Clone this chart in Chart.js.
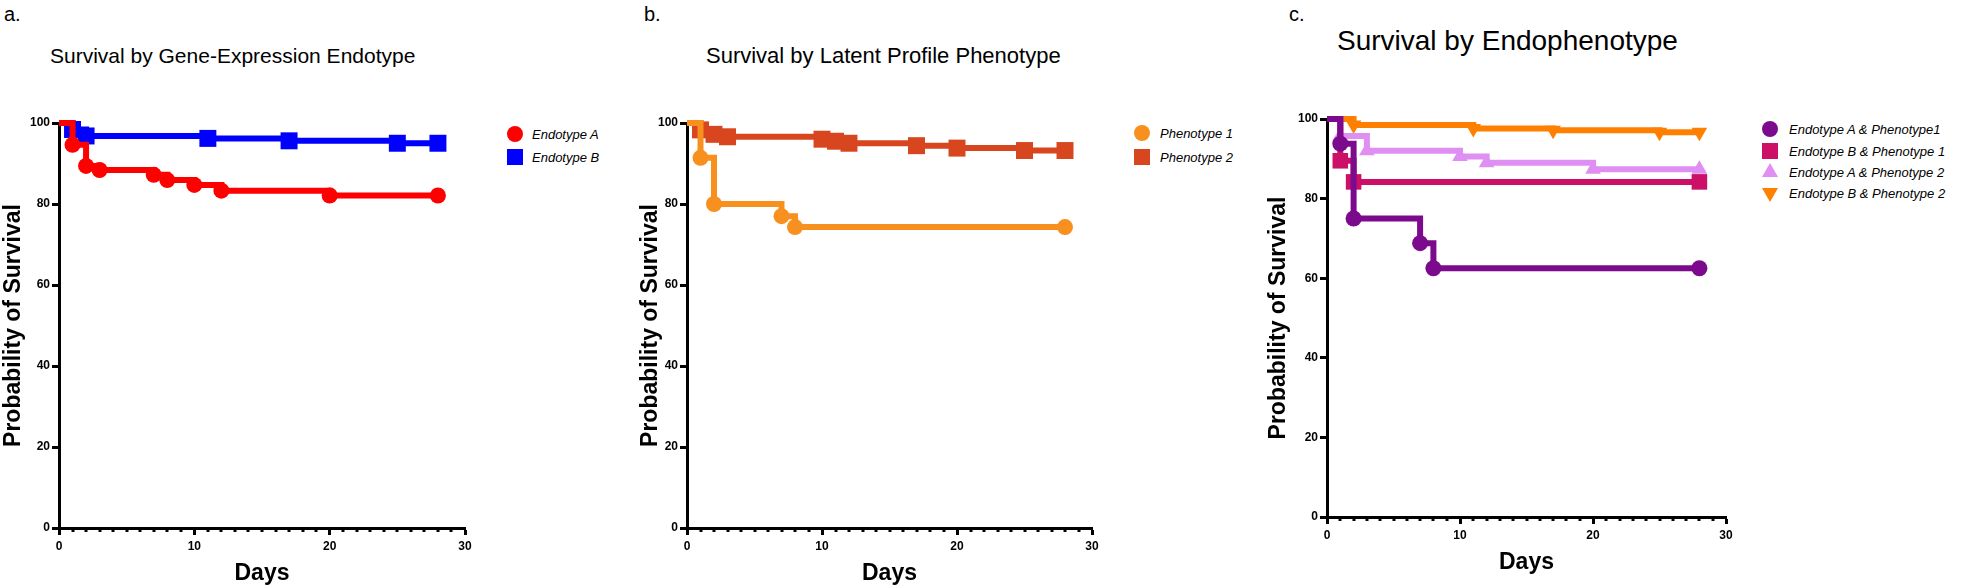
<!DOCTYPE html>
<html>
<head>
<meta charset="utf-8">
<script src="https://cdn.jsdelivr.net/npm/chart.js@4.4.1/dist/chart.umd.min.js"></script>
<style>
  html, body { margin: 0; padding: 0; background: #fff; }
  body { width: 1961px; height: 587px; position: relative; overflow: hidden;
         font-family: "Liberation Sans", Arial, sans-serif; color: #000; }
  canvas { position: absolute; top: 0; }
  .lbl { position: absolute; font-size: 20px; line-height: 20px; }
  .ttl { position: absolute; font-size: 21px; line-height: 21px; white-space: nowrap; }
  .leg { position: absolute; font-size: 13px; font-style: italic; line-height: 13px; white-space: nowrap; }
  .leg svg { position: absolute; overflow: visible; }
</style>
</head>
<body>
<div class="lbl" style="left:4px; top:4px;">a.</div>
<div class="lbl" style="left:644px; top:4px;">b.</div>
<div class="lbl" style="left:1289px; top:4px;">c.</div>

<div class="ttl" style="left:50px; top:45px;">Survival by Gene-Expression Endotype</div>
<div class="ttl" style="left:706px; top:45px; font-size:22px; line-height:22px;">Survival by Latent Profile Phenotype</div>
<div class="ttl" style="left:1337px; top:27px; font-size:28px; line-height:28px;">Survival by Endophenotype</div>

<canvas id="chartA" width="500" height="587" style="left:0px"></canvas>
<canvas id="chartB" width="500" height="587" style="left:630px"></canvas>
<canvas id="chartC" width="500" height="587" style="left:1260px"></canvas>

<div id="legA"></div>
<div id="legB"></div>
<div id="legC"></div>

<script>
// ---- data (days, survival %) ----
const endoADays = [0, 1, 2, 3, 7, 8, 10, 12, 20, 28];
const endoASurv = [100, 94.6, 89.4, 88.4, 87.2, 85.9, 84.7, 83.3, 82.1, 82.1];
const endoBDays = [0, 1, 2, 11, 17, 25, 28];
const endoBSurv = [100, 98.4, 96.8, 96.2, 95.6, 95.0, 95.0];

const pheno1Days = [0, 1, 2, 7, 8, 28];
const pheno1Surv = [100, 91.4, 80.0, 77.0, 74.3, 74.3];
const pheno2Days = [0, 1, 2, 3, 10, 11, 12, 17, 20, 25, 28];
const pheno2Surv = [100, 98.3, 97.2, 96.6, 96.0, 95.5, 95.0, 94.4, 93.8, 93.2, 93.2];

const aP1Days = [0, 1, 2, 7, 8, 28];
const aP1Surv = [100, 93.8, 75.0, 68.8, 62.5, 62.5];
const bP1Days = [0, 1, 2, 28];
const bP1Surv = [100, 89.5, 84.2, 84.2];
const aP2Days = [0, 1, 3, 10, 12, 20, 28];
const aP2Surv = [100, 95.7, 92.0, 90.6, 89.0, 87.4, 87.4];
const bP2Days = [0, 2, 11, 17, 25, 28];
const bP2Surv = [100, 98.5, 97.6, 97.2, 96.7, 96.7];

const xTicks = [0, 10, 20, 30];
const yTicks = [0, 20, 40, 60, 80, 100];

const FONT = '"Liberation Sans", Arial, sans-serif';

function pts(days, surv) {
  return days.map((d, i) => ({ x: d, y: surv[i] }));
}

function series(label, days, surv, color, style, radius, lineW, rot) {
  return {
    label: label,
    data: pts(days, surv),
    borderColor: color,
    backgroundColor: color,
    borderWidth: lineW,
    stepped: true,
    clip: false,
    pointStyle: style,
    pointRotation: rot || 0,
    pointBorderWidth: 0,
    pointRadius: (ctx) => ctx.dataIndex === 0 ? 0 : radius,
    pointHoverRadius: (ctx) => ctx.dataIndex === 0 ? 0 : radius
  };
}

// short day ticks between the labelled ones, placed by the x scale
const minorTicks = {
  id: 'minorTicks',
  afterDraw(chart) {
    const xs = chart.scales.x;
    const ctx = chart.ctx;
    const y0 = xs.top;
    ctx.save();
    ctx.strokeStyle = '#000';
    ctx.lineWidth = 3;
    for (let d = xs.min; d <= xs.max; d++) {
      if (d % 10 === 0) continue;
      const px = Math.round(xs.getPixelForValue(d));
      ctx.beginPath();
      ctx.moveTo(px, y0);
      ctx.lineTo(px, y0 + 4);
      ctx.stroke();
    }
    ctx.restore();
  }
};

function makeChart(id, datasets, box) {
  return new Chart(document.getElementById(id), {
    type: 'line',
    data: { datasets: datasets },
    plugins: [minorTicks],
    options: {
      responsive: false,
      animation: false,
      events: [],
      layout: { padding: { top: box.top, right: box.right, bottom: box.bottom, left: box.left } },
      plugins: { legend: { display: false }, tooltip: { enabled: false }, title: { display: false } },
      scales: {
        x: {
          type: 'linear', min: 0, max: 30,
          afterBuildTicks: (s) => { s.ticks = xTicks.map(v => ({ value: v })); },
          afterFit: (s) => { s.height = box.xh; s.paddingLeft = 0; s.paddingRight = 0; s.paddingTop = 0; s.paddingBottom = 0; },
          border: { display: true, color: '#000', width: 3 },
          grid: { drawOnChartArea: false, drawTicks: true, tickLength: 7, tickWidth: 3, tickColor: '#000' },
          ticks: { color: '#000', padding: 4, maxRotation: 0, font: { family: FONT, size: 12, weight: 'bold' } },
          title: { display: true, text: 'Days', color: '#000', padding: 0, font: { family: FONT, size: 23, weight: 'bold' } }
        },
        y: {
          type: 'linear', min: 0, max: 100,
          afterBuildTicks: (s) => { s.ticks = yTicks.map(v => ({ value: v })); },
          afterFit: (s) => { s.width = box.yw; s.paddingLeft = 0; s.paddingRight = 0; s.paddingTop = 0; s.paddingBottom = 0; },
          border: { display: true, color: '#000', width: 3 },
          grid: { drawOnChartArea: false, drawTicks: true, tickLength: 7, tickWidth: 3, tickColor: '#000' },
          ticks: { color: '#000', padding: 2, font: { family: FONT, size: 12, weight: 'bold' } },
          title: { display: true, text: 'Probability of Survival', color: '#000', padding: 0, font: { family: FONT, size: 23, weight: 'bold' } }
        }
      }
    }
  });
}

const RED = '#ff0000', BLUE = '#0000ff';
const ORANGE1 = '#f7901e', RUST = '#d8461f';
const PURPLE = '#7c0a8c', MAGENTA = '#cc0f67', LILAC = '#df8ef2', ORANGE2 = '#ff8000';

makeChart('chartA', [
  series('Endotype A', endoADays, endoASurv, RED, 'circle', 8, 6),
  series('Endotype B', endoBDays, endoBSurv, BLUE, 'rect', 12, 6)
], { top: 123, right: 35, bottom: 0, left: 0, yw: 59, xh: 59 });

makeChart('chartB', [
  series('Phenotype 1', pheno1Days, pheno1Surv, ORANGE1, 'circle', 8, 6),
  series('Phenotype 2', pheno2Days, pheno2Surv, RUST, 'rect', 12, 6)
], { top: 123, right: 38, bottom: 0, left: 7, yw: 50, xh: 59 });

makeChart('chartC', [
  series('Endotype A & Phenotype1', aP1Days, aP1Surv, PURPLE, 'circle', 8, 6),
  series('Endotype B & Phenotype 1', bP1Days, bP1Surv, MAGENTA, 'rect', 11, 6),
  series('Endotype A & Phenotype 2', aP2Days, aP2Surv, LILAC, 'triangle', 9, 6),
  series('Endotype B & Phenotype 2', bP2Days, bP2Surv, ORANGE2, 'triangle', 9, 6, 180)
], { top: 119, right: 34, bottom: 11, left: 5, yw: 62, xh: 59 });

// legends built from the same dataset labels/colours
function shapeSvg(style, color, rot) {
  if (style === 'circle') return '<circle cx="0" cy="0" r="8" fill="' + color + '"/>';
  if (style === 'rect') return '<rect x="-8" y="-8" width="16" height="16" fill="' + color + '"/>';
  const t = rot ? ' transform="rotate(180)"' : '';
  return '<polygon points="0,-9 8,5 -8,5" fill="' + color + '"' + t + '/>';
}
function legend(elId, items, mx, tx, rows) {
  const host = document.getElementById(elId);
  items.forEach((it, i) => {
    const d = document.createElement('div');
    d.className = 'leg';
    d.style.left = tx + 'px';
    d.style.top = (rows[i] - 6) + 'px';
    d.innerHTML = '<svg width="1" height="1" style="left:' + (mx - tx) + 'px; top:6px;">' +
      shapeSvg(it[1], it[2], it[3]) + '</svg>' + it[0];
    host.appendChild(d);
  });
}
legend('legA', [['Endotype A', 'circle', RED], ['Endotype B', 'rect', BLUE]], 515, 532, [134, 157]);
legend('legB', [['Phenotype 1', 'circle', ORANGE1], ['Phenotype 2', 'rect', RUST]], 1142, 1160, [133, 157]);
legend('legC', [
  ['Endotype A & Phenotype1', 'circle', PURPLE],
  ['Endotype B & Phenotype 1', 'rect', MAGENTA],
  ['Endotype A & Phenotype 2', 'triangle', LILAC],
  ['Endotype B & Phenotype 2', 'triangle', ORANGE2, 180]
], 1770, 1789, [129, 151, 172, 193]);
</script>
</body>
</html>
